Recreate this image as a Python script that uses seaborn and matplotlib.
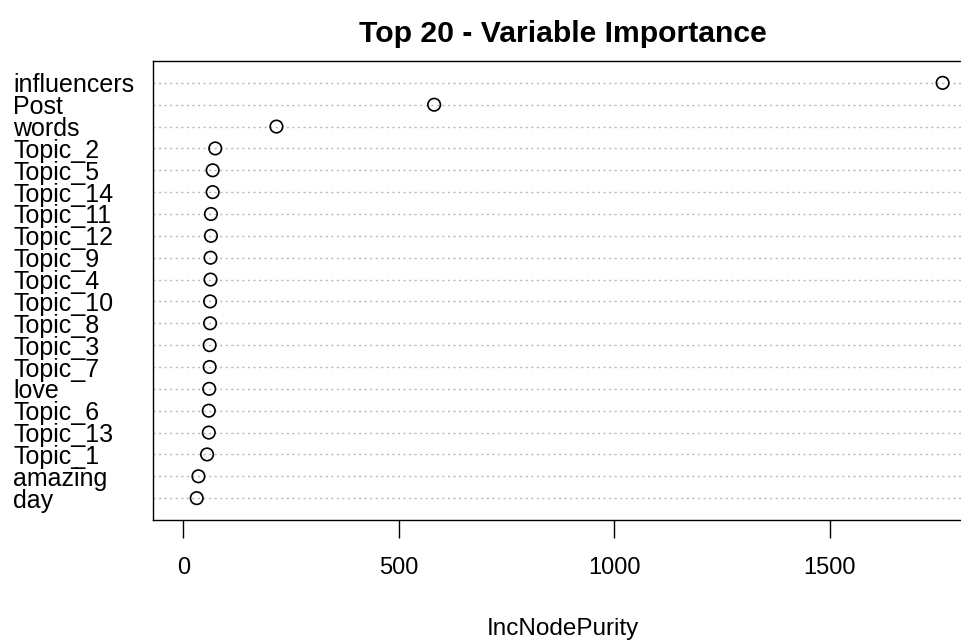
import matplotlib
matplotlib.use("Agg")
import matplotlib.pyplot as plt
import seaborn as sns
import pandas as pd

variables = ["influencers", "Post", "words", "Topic_2", "Topic_5", "Topic_14",
             "Topic_11", "Topic_12", "Topic_9", "Topic_4", "Topic_10", "Topic_8",
             "Topic_3", "Topic_7", "love", "Topic_6", "Topic_13", "Topic_1",
             "amazing", "day"]
inc_node_purity = [1762, 582, 216, 74, 68, 68, 64, 64, 63, 63, 62, 62, 61, 61,
                   60, 59, 59, 55, 35, 31]
x_ticks = [0, 500, 1000, 1500]

df = pd.DataFrame({"variable": variables, "IncNodePurity": inc_node_purity})

sns.set_style("white")
plt.rcParams["font.family"] = ["Liberation Sans", "DejaVu Sans"]
plt.rcParams["text.color"] = "black"
plt.rcParams["axes.labelcolor"] = "black"
plt.rcParams["xtick.color"] = "black"
plt.rcParams["ytick.color"] = "black"

fig = plt.figure(figsize=(9.62, 6.41), dpi=100)
ax = fig.add_axes([153 / 962, 1 - 520 / 641, 820 / 962, 459 / 641])

sns.stripplot(data=df, x="IncNodePurity", y="variable", order=variables,
              jitter=False, size=9, linewidth=1.2, ax=ax, zorder=3)
for coll in ax.collections:
    coll.set_facecolor("none")
    coll.set_edgecolor("black")

xmax = max(inc_node_purity)
pad = 0.04 * xmax
ax.set_xlim(0 - pad, xmax + pad)
ax.set_ylim(len(variables), -1)

ax.grid(False)
for i in range(len(variables)):
    ax.axhline(i, color="#b8b8b8", linestyle=(0, (1.5, 2.5)), linewidth=1.0, zorder=1)

for side in ["left", "top", "bottom"]:
    ax.spines[side].set_visible(True)
    ax.spines[side].set_color("black")
    ax.spines[side].set_linewidth(1.0)
ax.spines["right"].set_visible(False)

ax.set_xticks(x_ticks)
ax.set_xticklabels([str(t) for t in x_ticks])
ax.tick_params(axis="x", direction="out", length=13, width=1.0, pad=14,
               labelsize=17, bottom=True, colors="black")
ax.tick_params(axis="y", length=0, pad=140 * 0.72, labelsize=18, colors="black")
for lab in ax.get_yticklabels():
    lab.set_horizontalalignment("left")

ax.set_ylabel("")
ax.set_xlabel("IncNodePurity", fontsize=17.5, labelpad=28, color="black")
ax.set_title("Top 20 - Variable Importance", fontsize=21.7, fontweight="bold",
             pad=14, color="black")

fig.savefig("out.png", dpi=100)
